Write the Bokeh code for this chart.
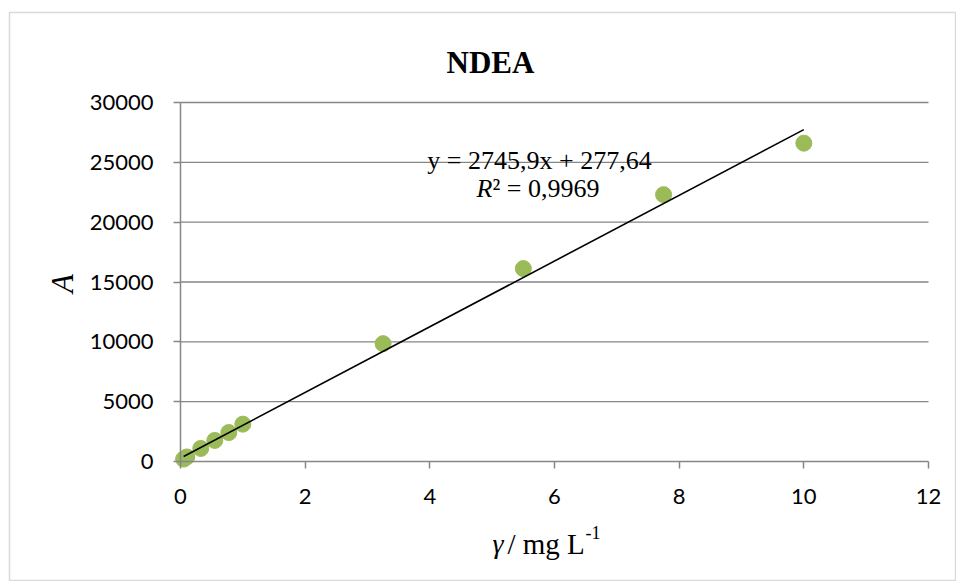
from bokeh.plotting import figure
from bokeh.models import Range1d, Label, BoxAnnotation, FixedTicker
from bokeh.embed import file_html
from bokeh.resources import INLINE
import math

# ---------------- data ----------------
chart_title = "NDEA"
conc = [0.05, 0.1, 0.325, 0.55, 0.775, 1.0, 3.25, 5.5, 7.75, 10.0]
area = [200, 380, 1090, 1760, 2420, 3120, 9850, 16120, 22300, 26600]
slope = 2745.9
intercept = 277.64
eq_text = "y = 2745,9x + 277,64"
r2_label = "R"
r2_rest = "² = 0,9969"
x_ticks = [0, 2, 4, 6, 8, 10, 12]
y_ticks = [0, 5000, 10000, 15000, 20000, 25000, 30000]
y_axis_label = "A"
x_axis_sym = "γ"
x_axis_unit = "/ mg L"
x_axis_exp = "-1"

# ---------------- layout ----------------
W, H = 956, 581
FL, FR, FT, FB = 180, 928, 102, 461          # plot area in pixels
XMIN, XMAX, YMIN, YMAX = x_ticks[0], x_ticks[-1], y_ticks[0], y_ticks[-1]
sx = (FR - FL) / (XMAX - XMIN)
sy = (FB - FT) / (YMAX - YMIN)

def dx(px):
    return XMIN + (px - FL) / sx

def dy(py):
    return YMIN + (FB - py) / sy

GRAY = "#868686"
GREEN = "#9BBB59"

p = figure(width=W, height=H, min_border=0,
           x_range=Range1d(dx(0), dx(W)), y_range=Range1d(dy(H), dy(0)),
           output_backend="svg", toolbar_location=None)
p.outline_line_color = None
p.background_fill_color = "white"
p.border_fill_color = "white"
p.xgrid.visible = False
p.ygrid.visible = False

for ax in (p.xaxis[0], p.yaxis[0]):
    ax.fixed_location = 0
    ax.axis_line_color = GRAY
    ax.axis_line_width = 1.5
    ax.major_tick_line_color = GRAY
    ax.major_tick_line_width = 1.5
    ax.major_tick_in = 0
    ax.major_tick_out = 7
    ax.minor_tick_line_color = None
    ax.major_label_text_font = "Lato"
    ax.major_label_text_font_size = "22px"
    ax.major_label_text_color = "black"

p.xaxis.ticker = FixedTicker(ticks=x_ticks)
p.yaxis.ticker = FixedTicker(ticks=y_ticks)
p.xaxis.bounds = (XMIN, XMAX)
p.yaxis.bounds = (YMIN, YMAX)
p.xaxis.major_label_standoff = 20
p.yaxis.major_label_standoff = 20

# horizontal gridlines
gy = y_ticks[1:]
p.segment(x0=[XMIN] * len(gy), y0=gy, x1=[XMAX] * len(gy), y1=gy,
          line_color=GRAY, line_width=1.3)

# points
p.scatter(conc, area, size=16, fill_color=GREEN, line_color=GREEN, marker="circle")
# trendline
x0, x1 = min(conc), max(conc)
p.line([x0, x1], [slope * x0 + intercept, slope * x1 + intercept],
       line_color="black", line_width=1.6)

# outer chart border
p.add_layout(BoxAnnotation(left=dx(9), right=dx(955), top=dy(12), bottom=dy(580),
                           fill_color=None, line_color=GRAY, line_width=1.5))

serif = "Liberation Serif"
def lab(px, py, text, size, align="left", style="normal", angle=0):
    p.add_layout(Label(x=dx(px), y=dy(py), text=text, text_font=serif,
                       text_font_style=style, text_font_size=size,
                       text_align=align, text_baseline="alphabetic",
                       text_color="black", angle=angle))

lab(490, 62, chart_title, "31px", align="center", style="bold")
lab(539, 160, eq_text, "26px", align="center")
lab(492, 188, r2_label, "26px", align="right", style="italic")
lab(492, 188, r2_rest, "26px", align="left")
lab(62, 283, y_axis_label, "31px", align="center", style="italic", angle=math.pi / 2)
lab(492, 543, x_axis_sym, "28px", align="left", style="italic")
lab(507, 543, x_axis_unit, "29px", align="left")
lab(585, 532, x_axis_exp, "18px", align="left")

open("out.html", "w").write(file_html(p, INLINE))
